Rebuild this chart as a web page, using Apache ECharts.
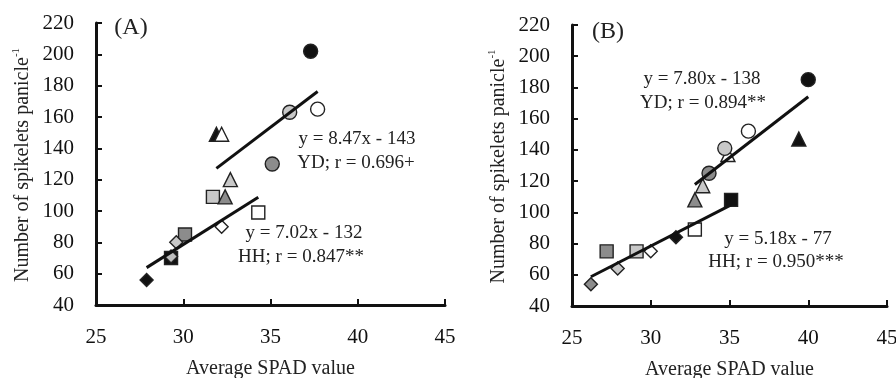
<!DOCTYPE html>
<html>
<head>
<meta charset="utf-8">
<script src="https://cdn.jsdelivr.net/npm/echarts@6/dist/echarts.min.js"></script>
<style>
  html, body { margin: 0; padding: 0; background: #fff; }
  #chart { width: 896px; height: 378px; }
</style>
</head>
<body>
<div id="chart"></div>
<script>
// Spikelets per panicle vs. average SPAD value, two seasons (A) and (B).
// Each shape array lists four treatments in order: black, open, light grey, dark grey.

// Panel A
const aCircles   = [[37.3, 202], [37.7, 165], [36.1, 163], [35.1, 130]];
const aTriangles = [[31.9, 149], [32.2, 149], [32.7, 120], [32.4, 109]];
const aSquares   = [[29.3, 70],  [34.3, 99],  [31.7, 109], [30.1, 85]];
const aDiamonds  = [[27.9, 56],  [32.2, 90],  [29.6, 80],  [29.3, 71]];

// Panel B
const bCircles   = [[40.0, 185], [36.2, 152], [34.7, 141], [33.7, 125]];
const bTriangles = [[39.4, 147], [34.9, 137], [33.3, 117], [32.8, 108]];
const bSquares   = [[35.1, 108], [32.8, 89],  [29.1, 75],  [27.2, 75]];
const bDiamonds  = [[31.6, 84],  [30.0, 75],  [27.9, 64],  [26.2, 54]];

// Regression fits: YD = circles + triangles, HH = squares + diamonds
const fitGroups  = ['YD', 'HH'];
const slopeA     = [8.47, 7.02];
const interceptA = [-143, -132];
const rA         = ['0.696+', '0.847**'];
const slopeB     = [7.80, 5.18];
const interceptB = [-138, -77];
const rB         = ['0.894**', '0.950***'];

// Axis ticks
const xMin = 25, xMax = 45, xStep = 5;
const yMin = 40, yMax = 220, yStep = 20;

const FONT = 'Liberation Serif';
const INK = '#111';
const fills = ['#111111', '#ffffff', '#c8c8c8', '#8c8c8c'];
const fillsADiamond = ['#111111', '#ffffff', '#c8c8c8', '#bdbdbd'];

function markerSeries(data, symbol, size, panel, fillList) {
  return {
    type: 'scatter',
    xAxisIndex: panel, yAxisIndex: panel,
    symbol: symbol,
    symbolSize: size,
    z: 3,
    silent: true,
    data: data.map((p, i) => ({
      value: p,
      itemStyle: { color: fillList[i], opacity: 1, borderColor: '#222', borderWidth: 1.4 }
    }))
  };
}

function fitSeries(points, slope, intercept, panel) {
  const xs = points.map(p => p[0]);
  const x0 = Math.min(...xs), x1 = Math.max(...xs);
  return {
    type: 'line',
    xAxisIndex: panel, yAxisIndex: panel,
    showSymbol: false,
    silent: true,
    z: 5,
    lineStyle: { color: INK, width: 3 },
    data: [[x0, slope * x0 + intercept], [x1, slope * x1 + intercept]]
  };
}

function eqText(slope, intercept) {
  const sign = intercept < 0 ? '-' : '+';
  return 'y = ' + slope.toFixed(2) + 'x ' + sign + ' ' + Math.abs(intercept);
}

function axisPair(panel) {
  const common = {
    gridIndex: panel,
    axisLine: { show: true, onZero: false, lineStyle: { color: INK, width: 3 } },
    axisTick: { show: true, inside: true, length: 6, lineStyle: { color: INK, width: 2 } },
    splitLine: { show: false },
    nameTextStyle: { fontFamily: FONT, fontSize: 20, color: '#222' }
  };
  const x = Object.assign({}, common, {
    type: 'value', min: xMin, max: xMax, interval: xStep,
    axisLabel: { fontFamily: FONT, fontSize: 21, color: INK, margin: 22 },
    name: 'Average SPAD value', nameLocation: 'middle', nameGap: 54
  });
  const y = Object.assign({}, common, {
    type: 'value', min: yMin, max: yMax, interval: yStep,
    axisLabel: { fontFamily: FONT, fontSize: 21, color: INK, margin: 22 },
    name: 'Number of spikelets panicle{s|-1}', nameLocation: 'middle', nameGap: 62,
    nameTextStyle: {
      fontFamily: FONT, fontSize: 20, color: '#222', padding: [0, 2, 0, 0],
      rich: { s: { fontFamily: FONT, fontSize: 11, color: '#222', verticalAlign: 'top', padding: [0, 0, 12, 0] } }
    }
  });
  return [x, y];
}

const [xA, yA] = axisPair(0);
const [xB, yB] = axisPair(1);

function label(text, cx, cy, size) {
  return {
    type: 'text', x: cx, y: cy, silent: true,
    style: { text: text, fontFamily: FONT, fontSize: size || 19, fill: '#222', align: 'center', verticalAlign: 'middle' }
  };
}

const chart = echarts.init(document.getElementById('chart'), null, { renderer: 'canvas' });
chart.setOption({
  animation: false,
  backgroundColor: '#fff',
  grid: [
    { left: 96, top: 23, width: 349, height: 282, outerBoundsMode: 'none', containLabel: false },
    { left: 572, top: 25, width: 315, height: 281, outerBoundsMode: 'none', containLabel: false }
  ],
  xAxis: [xA, xB],
  yAxis: [yA, yB],
  series: [
    markerSeries(aSquares, 'rect', 13, 0, fills),
    markerSeries(aDiamonds, 'diamond', 13, 0, fillsADiamond),
    markerSeries(aTriangles, 'triangle', 14, 0, fills),
    markerSeries(aCircles, 'circle', 14, 0, fills),
    fitSeries(aCircles.concat(aTriangles), slopeA[0], interceptA[0], 0),
    fitSeries(aSquares.concat(aDiamonds), slopeA[1], interceptA[1], 0),

    markerSeries(bSquares, 'rect', 13, 1, fills),
    markerSeries(bDiamonds, 'diamond', 13, 1, fills),
    markerSeries(bTriangles, 'triangle', 14, 1, fills),
    markerSeries(bCircles, 'circle', 14, 1, fills),
    fitSeries(bCircles.concat(bTriangles), slopeB[0], interceptB[0], 1),
    fitSeries(bSquares.concat(bDiamonds), slopeB[1], interceptB[1], 1)
  ],
  graphic: [
    label('(A)', 131, 28, 24),
    label('(B)', 608, 32, 24),
    label(eqText(slopeA[0], interceptA[0]), 357, 139),
    label(fitGroups[0] + '; r = ' + rA[0], 356, 163),
    label(eqText(slopeA[1], interceptA[1]), 304, 233),
    label(fitGroups[1] + '; r = ' + rA[1], 301, 257),
    label(eqText(slopeB[0], interceptB[0]), 702, 79),
    label(fitGroups[0] + '; r = ' + rB[0], 703, 103),
    label(eqText(slopeB[1], interceptB[1]), 778, 239),
    label(fitGroups[1] + '; r = ' + rB[1], 776, 262)
  ]
});
</script>
</body>
</html>
